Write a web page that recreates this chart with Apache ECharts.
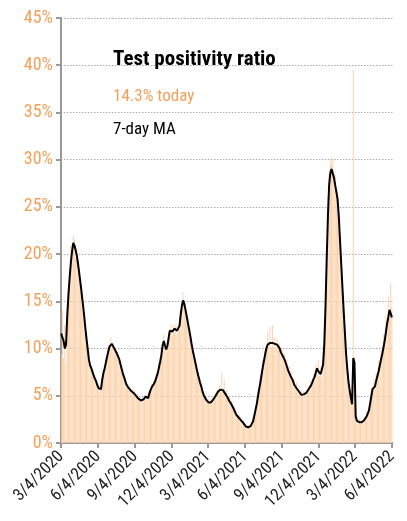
<!DOCTYPE html>
<html><head><meta charset="utf-8">
<script src="https://cdn.jsdelivr.net/npm/echarts@6/dist/echarts.min.js"></script>
<style>html,body{margin:0;padding:0;background:#fff}#c{width:407px;height:521px}</style>
</head><body><div id="c"></div>
<script>
// ---- data (sampled every 3 days starting 3/4/2020) ----
const startYear = 2020, startMonth = 3, startDay = 4;
const stepDays = 3;
const totalDays = 824;
const tickDates = ['3/4/2020','6/4/2020','9/4/2020','12/4/2020','3/4/2021','6/4/2021','9/4/2021','12/4/2021','3/4/2022','6/4/2022'];
const yTicks = [0,5,10,15,20,25,30,35,40,45];
const dailyRatio = [
9.5,14.0,9.0,12.5,8.5,14.5,17.0,18.5,21.0,20.0,
22.0,21.5,19.5,20.5,18.0,18.5,16.0,16.5,14.0,14.0,
11.5,11.5,9.5,9.0,8.0,8.3,7.2,7.5,6.5,6.8,
5.9,6.0,5.4,6.2,6.5,7.8,7.6,9.0,8.8,10.2,
10.0,11.2,10.2,10.6,9.7,10.2,9.2,9.6,8.6,8.8,
7.6,7.8,6.7,7.0,6.0,6.3,5.6,5.9,5.3,5.7,
5.1,5.5,4.8,5.2,4.5,4.8,4.3,4.8,4.4,5.1,
4.7,5.1,4.6,5.6,5.4,6.3,5.9,6.6,6.4,7.4,
7.2,8.5,8.3,9.9,10.0,11.5,10.0,10.4,10.0,11.8,
11.5,12.6,11.4,12.5,11.7,12.6,11.5,12.4,12.0,14.2,
14.1,16.0,14.3,14.8,13.0,13.3,11.6,11.8,10.2,10.3,
8.9,9.0,7.7,7.8,6.6,6.8,5.8,5.8,4.9,5.2,
4.4,4.7,4.1,4.6,4.1,4.8,4.4,5.1,4.8,5.6,
5.2,6.2,5.4,7.5,5.4,6.8,5.0,5.6,4.6,4.8,
4.1,4.5,3.7,3.9,3.2,3.3,2.8,3.0,2.4,2.7,
2.1,2.4,1.8,2.0,1.6,1.9,1.6,2.0,1.9,2.6,
2.7,3.9,3.9,5.5,5.4,7.0,6.9,8.8,8.3,10.2,
9.6,11.8,10.1,12.3,10.2,12.5,10.1,11.2,10.1,11.0,
9.9,10.6,9.2,10.0,8.8,9.5,8.1,8.8,7.4,8.2,
6.8,7.5,6.3,6.9,5.8,6.4,5.4,6.0,5.1,5.6,
4.9,5.5,5.0,5.6,5.3,6.0,5.6,6.7,6.1,7.3,
6.7,8.3,7.5,8.8,7.1,8.0,6.9,9.5,11.5,16.0,
21.0,26.0,28.5,30.0,29.5,30.2,28.0,28.5,26.0,26.5,
23.0,22.0,18.0,17.0,13.0,12.5,8.5,8.5,6.0,6.0,
4.5,4.0,39.5,9.0,2.5,3.0,2.0,2.6,2.0,2.5,
2.1,2.8,2.4,3.3,2.9,4.0,4.1,5.8,5.4,6.6,
5.7,7.4,6.8,8.8,7.7,10.0,8.9,11.5,10.3,13.5,
12.0,15.5,13.5,17.0,14.3
];
const movingAvg = [
11.6,11.4,10.8,10.0,10.4,13.4,15.7,17.5,19.1,20.3,
21.2,20.9,20.4,19.8,18.9,17.9,16.9,15.8,14.7,13.5,
12.2,11.0,9.9,8.8,8.2,7.9,7.5,7.1,6.8,6.5,
6.1,5.8,5.6,5.7,6.7,7.4,7.9,8.5,9.1,9.7,
10.2,10.4,10.5,10.3,10.0,9.8,9.5,9.2,8.9,8.4,
7.9,7.4,7.0,6.6,6.2,6.0,5.8,5.6,5.5,5.4,
5.3,5.2,5.0,4.9,4.7,4.55,4.5,4.5,4.6,4.8,
4.9,4.8,4.75,5.2,5.6,5.9,6.1,6.3,6.6,7.0,
7.4,8.0,8.6,9.3,10.3,10.8,10.3,9.9,10.3,11.1,
11.9,12.0,11.8,11.9,12.1,12.0,11.9,11.8,12.4,13.6,
14.5,15.1,14.7,14.1,13.4,12.7,12.0,11.3,10.5,9.8,
9.2,8.6,8.0,7.4,6.9,6.4,6.0,5.5,5.1,4.85,
4.6,4.4,4.3,4.2,4.3,4.45,4.6,4.75,5.0,5.2,
5.45,5.6,5.65,5.65,5.6,5.4,5.2,5.0,4.8,4.5,
4.3,4.1,3.9,3.6,3.3,3.0,2.9,2.7,2.55,2.4,
2.25,2.1,1.95,1.75,1.7,1.65,1.65,1.8,2.05,2.3,
2.9,3.5,4.1,4.9,5.7,6.4,7.2,8.0,8.7,9.4,
10.0,10.4,10.5,10.6,10.6,10.6,10.55,10.5,10.5,10.4,
10.3,10.0,9.6,9.4,9.1,8.85,8.5,8.1,7.7,7.4,
7.1,6.9,6.6,6.2,6.0,5.8,5.65,5.45,5.3,5.1,
5.1,5.15,5.2,5.3,5.5,5.7,5.9,6.1,6.4,6.75,
7.0,7.5,7.9,7.6,7.4,7.3,7.25,8.3,10.5,14.5,
19.5,24.0,27.3,28.6,29.0,28.9,28.1,27.3,26.6,25.8,
24.0,21.5,19.0,16.5,14.1,11.8,9.5,7.9,6.5,5.6,
4.8,4.1,9.0,8.5,2.8,2.35,2.25,2.2,2.15,2.2,
2.25,2.4,2.6,2.8,3.1,3.45,4.2,5.0,5.7,5.85,
6.0,6.6,7.1,7.6,8.2,8.85,9.4,10.1,10.8,11.7,
12.6,13.3,14.1,14.0,13.3
];
const titleText = 'Test positivity ratio';
const todayText = '14.3% today';
const maText = '7-day MA';

// ---- build ----
function dayLabel(offset){ const d=new Date(startYear, startMonth-1, startDay + offset); return (d.getMonth()+1)+'/'+d.getDate()+'/'+d.getFullYear(); }
const categories = [];
for (let i=0;i<totalDays;i++) categories.push(dayLabel(i));
const barFull = categories.map(()=> '-');
const lineFull = categories.map(()=> null);
dailyRatio.forEach((v,i)=>{ barFull[i*stepDays]=v; });
movingAvg.forEach((v,i)=>{ lineFull[i*stepDays]=v; });
const tickSet = new Set(tickDates);
const isTick = (idx, val) => tickSet.has(categories[idx]);
const FONT = "'Roboto Condensed'";
const ORANGE = '#F5A05A';

const chart = echarts.init(document.getElementById('c'), null, {renderer:'canvas'});
chart.setOption({
  animation:false,
  backgroundColor:'#fff',
  grid:{left:61, right:14.5, top:18, bottom:78, containLabel:false},
  xAxis:{
    type:'category', data:categories, boundaryGap:true,
    axisLine:{show:true, lineStyle:{color:'#999', width:2}},
    axisTick:{show:true, length:5, alignWithLabel:true, interval:isTick, lineStyle:{color:'#999', width:2}},
    axisLabel:{interval:isTick, rotate:45, margin:11, color:'#222', fontFamily:FONT, fontSize:17, hideOverlap:false},
    splitLine:{show:false}
  },
  yAxis:{
    type:'value', min:yTicks[0], max:yTicks[yTicks.length-1], interval:5,
    axisLine:{show:true, lineStyle:{color:'#999', width:2}},
    axisTick:{show:true, length:5, lineStyle:{color:'#999', width:2}},
    axisLabel:{color:ORANGE, fontFamily:FONT, fontSize:18, margin:8, formatter:'{value}%'},
    splitLine:{show:true, lineStyle:{color:'#aaa', type:[1.5,1.5], width:1}}
  },
  series:[
    {type:'bar', data:barFull, barWidth:1, itemStyle:{color:'#FCD3AD'}, z:1},
    {type:'line', data:lineFull, connectNulls:true, symbol:'none', lineStyle:{color:'#000', width:2}, z:3}
  ],
  graphic:[
    {type:'text', x:113, y:59.5, z:10, style:{text:titleText, font:"bold 21px "+FONT, fill:'#000', verticalAlign:'middle'}},
    {type:'text', x:113, y:96.5, z:10, style:{text:todayText, font:"17px "+FONT, fill:ORANGE, verticalAlign:'middle'}},
    {type:'text', x:113, y:130, z:10, style:{text:maText, font:"17px "+FONT, fill:'#000', verticalAlign:'middle'}}
  ]
});
</script></body></html>
